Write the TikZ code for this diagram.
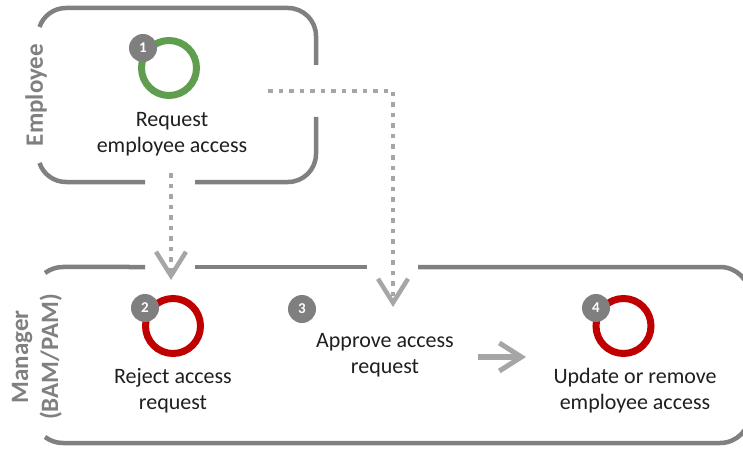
\documentclass[tikz,border=0pt]{standalone}
\usepackage{fontspec}
\setmainfont{Carlito}
\usetikzlibrary{arrows.meta}
\definecolor{boxgray}{HTML}{808080}
\definecolor{linegray}{HTML}{A6A6A6}
\definecolor{ringgreen}{HTML}{5E9E4E}
\definecolor{ringred}{HTML}{C00000}
\definecolor{badgegray}{HTML}{7F7F7F}
\definecolor{txt}{HTML}{1F1F1F}
\begin{document}
\begin{tikzpicture}[x=1pt,y=1pt,yscale=-1,
  lane/.style={draw=boxgray, line width=4.5pt, line cap=butt},
  ring/.style={circle, draw=#1, line width=7pt, minimum size=55pt, inner sep=0pt},
  badge/.style={circle, fill=badgegray, minimum size=28pt, inner sep=0pt, text=white,
    font=\fontsize{15}{15}\selectfont\bfseries},
  steptext/.style={text=txt, align=center, inner sep=0pt, font=\fontsize{22}{26}\selectfont},
  lanelabel/.style={text=boxgray, rotate=90, align=center, inner sep=0pt,
    font=\fontsize{25}{30}\selectfont\bfseries},
  flow/.style={draw=linegray, line width=4.5pt, dash pattern=on 4.5pt off 6pt,
    -{Straight Barb[length=24pt,width=30pt,line width=4.5pt]}},
  solidflow/.style={draw=linegray, line width=6pt,
    -{Straight Barb[length=22pt,width=28pt,line width=5pt]}}
]
\useasboundingbox (0,0) rectangle (743,449);
\fill[white] (0,0) rectangle (743,449);

% Employee lane
\draw[lane] (39.5,27) arc[start angle=198.7, end angle=270, radius=28] -- (288,8)
  arc[start angle=270, end angle=360, radius=28] -- (316,65);
\draw[lane] (316,117) -- (316,154) arc[start angle=0, end angle=90, radius=28] -- (195,182);
\draw[lane] (145,182) -- (66,182) arc[start angle=90, end angle=161.3, radius=28];
\node[lanelabel] (lblemp) at (36,95) {Employee};

% Manager lane
\draw[lane] (45,273) arc[start angle=233.1, end angle=270, radius=30] -- (145,267);
\draw[lane] (195,267) -- (367,267);
\draw[lane] (418,267) -- (720,267) arc[start angle=270, end angle=360, radius=30]
  -- (750,413) arc[start angle=0, end angle=90, radius=30] -- (63,443)
  arc[start angle=90, end angle=126.9, radius=30];
\node[lanelabel] (lblmgr) at (37,357) {Manager\\(BAM/PAM)};

% Steps
\node[ring=ringgreen] (c1) at (169,68) {};
\node[badge] (b1) at (143,48) {1};
\node[steptext] (t1) at (172,134) {Request\\employee access};

\node[ring=ringred] (c2) at (173,326) {};
\node[badge] (b2) at (145,308) {2};
\node[steptext] (t2) at (173,391) {Reject access\\request};

\node[badge] (b3) at (302,309) {3};
\node[steptext] (t3) at (385,355) {Approve access\\request};

\node[ring=ringred] (c4) at (623.5,326) {};
\node[badge] (b4) at (596,308) {4};
\node[steptext] (t4) at (635,391) {Update or remove\\employee access};

% Connectors
\coordinate (e1) at (171,173);
\coordinate (m1) at (171,280);
\coordinate (e2) at (268,91);
\coordinate (k2) at (393,91);
\coordinate (m2) at (393,307);
\coordinate (a3) at (478,357);
\coordinate (a4) at (526,357);
\draw[flow] (e1) -- (m1);
\draw[flow] (e2) -- (k2) -- (m2);
\draw[solidflow] (a3) -- (a4);
\end{tikzpicture}
\end{document}
